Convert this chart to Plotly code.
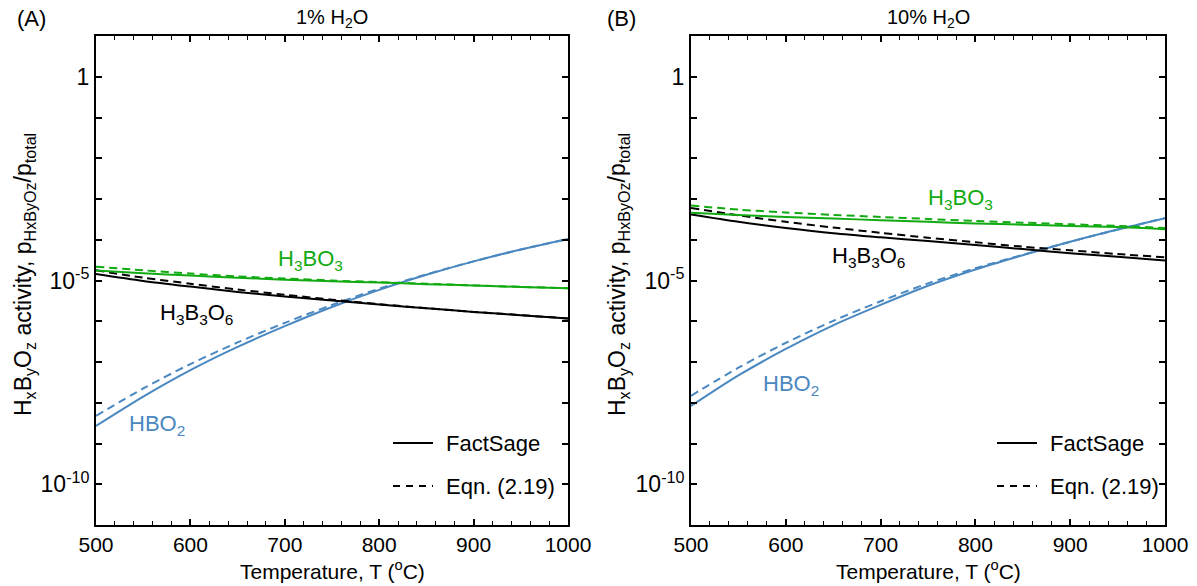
import plotly.graph_objects as go

# ---------------- data (log10 of activity) ----------------
T = [500, 550, 600, 650, 700, 750, 800, 850, 900, 950, 1000]

# Panel A: 1% H2O
A_h3bo3_fs = [-4.755, -4.82, -4.88, -4.93, -4.98, -5.02, -5.05, -5.09, -5.12, -5.16, -5.19]
A_h3bo3_eq = [-4.66, -4.75, -4.83, -4.90, -4.95, -5.00, -5.04, -5.08, -5.12, -5.155, -5.19]
A_h3b3o6_fs = [-4.84, -5.01, -5.15, -5.28, -5.39, -5.49, -5.59, -5.68, -5.77, -5.85, -5.93]
A_h3b3o6_eq = [-4.75, -4.93, -5.08, -5.22, -5.35, -5.47, -5.58, -5.68, -5.77, -5.85, -5.93]
A_hbo2_fs = [-8.57, -7.85, -7.20, -6.63, -6.12, -5.65, -5.23, -4.86, -4.53, -4.24, -3.98]
A_hbo2_eq = [-8.32, -7.65, -7.05, -6.52, -6.04, -5.60, -5.20, -4.85, -4.53, -4.24, -3.98]

# Panel B: 10% H2O
B_h3bo3_fs = [-3.34, -3.39, -3.44, -3.48, -3.52, -3.56, -3.60, -3.63, -3.66, -3.69, -3.74]
B_h3bo3_eq = [-3.16, -3.26, -3.33, -3.39, -3.44, -3.49, -3.54, -3.58, -3.62, -3.66, -3.71]
B_h3b3o6_fs = [-3.38, -3.56, -3.71, -3.84, -3.94, -4.03, -4.13, -4.23, -4.33, -4.42, -4.51]
B_h3b3o6_eq = [-3.22, -3.40, -3.56, -3.70, -3.83, -3.95, -4.06, -4.17, -4.26, -4.35, -4.43]
B_hbo2_fs = [-8.08, -7.33, -6.68, -6.10, -5.60, -5.13, -4.73, -4.38, -4.05, -3.75, -3.47]
B_hbo2_eq = [-7.83, -7.14, -6.53, -5.99, -5.51, -5.07, -4.70, -4.37, -4.05, -3.75, -3.47]

ytick_vals = [1, 1e-5, 1e-10]
ytick_text = ["1", "10<sup>-5</sup>", "10<sup>-10</sup>"]
xtick_vals = [500, 600, 700, 800, 900, 1000]
legend_names = ["FactSage", "Eqn. (2.19)"]

GREEN = "#12aa12"
BLUE = "#4a88c0"
BLACK = "#000000"
FONT = "Liberation Sans, Arial, sans-serif"
W, H = 1197, 586
DASH = "8px,5px"

def conv(v):
    return [10 ** a for a in v]

fig = go.Figure()

panels = [
    ("x", "y", A_h3bo3_fs, A_h3bo3_eq, A_h3b3o6_fs, A_h3b3o6_eq, A_hbo2_fs, A_hbo2_eq),
    ("x2", "y2", B_h3bo3_fs, B_h3bo3_eq, B_h3b3o6_fs, B_h3b3o6_eq, B_hbo2_fs, B_hbo2_eq),
]
for xa, ya, g_fs, g_eq, k_fs, k_eq, b_fs, b_eq in panels:
    for vals, col, dash in [
        (b_eq, BLUE, DASH), (b_fs, BLUE, "solid"),
        (k_eq, BLACK, DASH), (k_fs, BLACK, "solid"),
        (g_eq, GREEN, DASH), (g_fs, GREEN, "solid"),
    ]:
        fig.add_trace(go.Scatter(
            x=T, y=conv(vals), mode="lines", xaxis=xa, yaxis=ya,
            line=dict(color=col, width=2, dash=dash, shape="spline", smoothing=0.8),
            showlegend=False, hoverinfo="skip"))

xA = [96 / W, 568 / W]
xB = [691 / W, 1165 / W]
yD = [1 - 525 / H, 1 - 36 / H]

def xaxis(dom, anchor):
    return dict(domain=dom, anchor=anchor, range=[500, 1000], tickvals=xtick_vals,
                ticks="inside", ticklen=6, tickwidth=1.5, tickcolor="black",
                minor=dict(dtick=20, ticks="inside", ticklen=4, tickwidth=1.2, tickcolor="black"),
                showline=True, linewidth=2, linecolor="black", mirror="allticks",
                showgrid=False, zeroline=False, automargin=False,
                tickfont=dict(family=FONT, size=21, color="black"))

def yaxis(anchor):
    return dict(domain=yD, anchor=anchor, type="log", range=[-11, 1],
                tickvals=ytick_vals, ticktext=ytick_text,
                ticks="inside", ticklen=6, tickwidth=1.5, tickcolor="black",
                minor=dict(tickvals=[10 ** k for k in range(-11, 2)], ticks="inside",
                           ticklen=6, tickwidth=1.5, tickcolor="black"),
                showline=True, linewidth=2, linecolor="black", mirror="allticks",
                showgrid=False, zeroline=False, automargin=False,
                tickfont=dict(family=FONT, size=23, color="black"))

fig.update_layout(
    width=W, height=H, margin=dict(l=0, r=0, t=0, b=0, autoexpand=False),
    paper_bgcolor="white", plot_bgcolor="white", showlegend=False,
    xaxis=xaxis(xA, "y"), yaxis=yaxis("x"),
    xaxis2=xaxis(xB, "y2"), yaxis2=yaxis("x2"),
)

ann = []
def add_text(x, y, text, size, color="black", angle=0, xanchor="center"):
    ann.append(dict(x=x / W, y=1 - y / H, xref="paper", yref="paper", text=text,
                    showarrow=False, textangle=angle, xanchor=xanchor, yanchor="middle",
                    font=dict(family=FONT, size=size, color=color)))

# legend (per panel): sample lines + labels
shapes = []
for x0 in (393, 997):
    for (yy, dash), name in zip([(443, "solid"), (486, "7px,6px")], legend_names):
        shapes.append(dict(type="line", xref="paper", yref="paper",
                           x0=x0 / W, x1=(x0 + 40) / W, y0=1 - yy / H, y1=1 - yy / H,
                           line=dict(color=BLACK, width=2, dash=dash)))
        add_text(x0 + 51, yy, name, 22, xanchor="left")

# panel labels and titles
add_text(31, 18, "(A)", 22)
add_text(621, 18, "(B)", 22)
add_text(332, 18, "1% H<sub>2</sub>O", 20)
add_text(928, 18, "10% H<sub>2</sub>O", 20)
# axis titles
ytitle = "H<sub>x</sub>B<sub>y</sub>O<sub>z</sub> activity, p<sub>HxByOz</sub>/p<sub>total</sub>"
add_text(24, 275, ytitle, 23, angle=-90)
add_text(618, 275, ytitle, 23, angle=-90)
xtitle = "Temperature, T (<sup>o</sup>C)"
add_text(332, 570, xtitle, 21)
add_text(928, 570, xtitle, 21)
# curve labels
add_text(310, 260, "H<sub>3</sub>BO<sub>3</sub>", 22, GREEN)
add_text(196, 314, "H<sub>3</sub>B<sub>3</sub>O<sub>6</sub>", 22, BLACK)
add_text(157, 425, "HBO<sub>2</sub>", 22, BLUE)
add_text(960, 199, "H<sub>3</sub>BO<sub>3</sub>", 22, GREEN)
add_text(868, 257, "H<sub>3</sub>B<sub>3</sub>O<sub>6</sub>", 22, BLACK)
add_text(791, 385, "HBO<sub>2</sub>", 22, BLUE)
fig.update_layout(annotations=ann, shapes=shapes)

fig.write_html("out.html")
